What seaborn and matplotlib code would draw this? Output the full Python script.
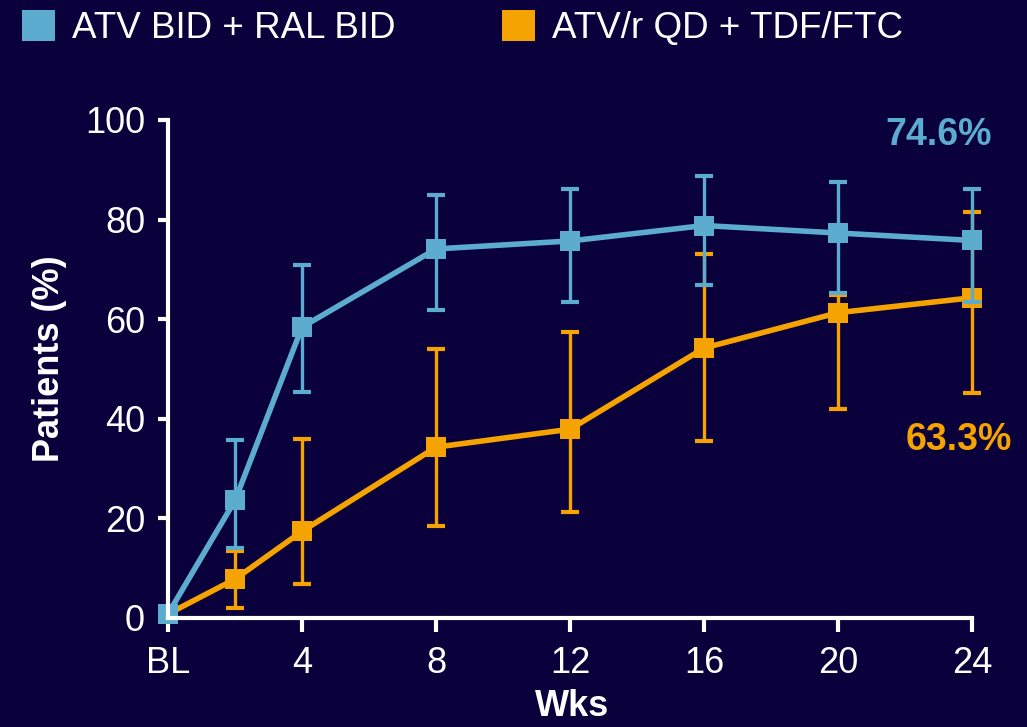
import matplotlib
matplotlib.use('Agg')
import matplotlib.pyplot as plt
import seaborn as sns
import pandas as pd
from matplotlib.patches import Patch

# ---- data ----
weeks = [0, 2, 4, 8, 12, 16, 20, 24]
tick_weeks = [0, 4, 8, 12, 16, 20, 24]
tick_labels = ['BL', '4', '8', '12', '16', '20', '24']
y_ticks = [0, 20, 40, 60, 80, 100]
arm_names = ['ATV BID + RAL BID', 'ATV/r QD + TDF/FTC']
ral_pct = [0.8, 23.6, 58.4, 74.1, 75.7, 78.8, 77.3, 75.8]
ral_low = [0.8, 14.0, 45.3, 61.8, 63.4, 66.9, 65.2, 63.5]
ral_high = [0.8, 35.8, 70.9, 84.9, 86.1, 88.7, 87.5, 86.2]
tdf_pct = [0.8, 7.8, 17.4, 34.3, 37.9, 54.2, 61.3, 64.3]
tdf_low = [0.8, 2.0, 6.8, 18.5, 21.2, 35.6, 41.9, 45.2]
tdf_high = [0.8, 13.5, 36.0, 54.1, 57.5, 73.1, 64.8, 81.5]
end_labels = ['74.6%', '63.3%']

bg = '#0A003C'
blue = '#5BACCF'
orange = '#F5A300'

sns.set_style('white')
plt.rcParams['font.family'] = ['Liberation Sans', 'DejaVu Sans']

fig = plt.figure(figsize=(10.27, 7.27), dpi=100, facecolor=bg)
ax = fig.add_axes([0.1636, 0.150, 0.783, 0.685])
ax.set_facecolor(bg)

series = [
    (arm_names[1], tdf_pct, tdf_low, tdf_high, orange),
    (arm_names[0], ral_pct, ral_low, ral_high, blue),
]
for name, pct, low, high, col in series:
    df = pd.DataFrame({'week': weeks, 'pct': pct})
    lo = [p - l for p, l in zip(pct[1:], low[1:])]
    hi = [h - p for p, h in zip(pct[1:], high[1:])]
    ax.errorbar(weeks[1:], pct[1:], yerr=[lo, hi], fmt='none', ecolor=col,
                elinewidth=2.4, capsize=6.5, capthick=3, clip_on=False)
    sns.lineplot(data=df, x='week', y='pct', ax=ax, color=col, lw=4,
                 marker='s', markersize=15, markeredgewidth=0, clip_on=False,
                 legend=False)

ax.set_xlim(0, 24)
ax.set_ylim(0, 100)
ax.set_xticks(tick_weeks)
ax.set_xticklabels(tick_labels)
ax.set_yticks(y_ticks)

for s in ['top', 'right']:
    ax.spines[s].set_visible(False)
for s in ['left', 'bottom']:
    ax.spines[s].set_color('white')
    ax.spines[s].set_linewidth(3)

ax.tick_params(axis='x', bottom=True, direction='out', colors='white', width=3,
               length=10, labelsize=26, pad=10)
ax.tick_params(axis='y', left=True, direction='out', colors='white', width=3,
               length=7.5, labelsize=26, pad=9)

ax.set_ylabel('Patients (%)', color='white', fontsize=26, fontweight='bold', va='center')
ax.yaxis.set_label_coords(-0.148, 0.521)
ax.set_xlabel('Wks', color='white', fontsize=26, fontweight='bold', va='center')
ax.xaxis.set_label_coords(0.502, -0.177)

ax.text(1.025, 0.970, end_labels[0], transform=ax.transAxes, ha='right', va='center',
        color=blue, fontsize=27, fontweight='bold')
ax.text(1.050, 0.357, end_labels[1], transform=ax.transAxes, ha='right', va='center',
        color=orange, fontsize=27, fontweight='bold')

handles = [Patch(facecolor=blue, edgecolor='none', label=arm_names[0]),
           Patch(facecolor=orange, edgecolor='none', label=arm_names[1])]
leg = fig.legend(handles=handles, loc='upper left', bbox_to_anchor=(22 / 1027, 1 - 10 / 727),
                 ncol=2, frameon=False, fontsize=26.5, handlelength=0.9, handleheight=0.9,
                 handletextpad=0.45, columnspacing=2.9, borderpad=0, borderaxespad=0)
for t in leg.get_texts():
    t.set_color('white')

fig.savefig('out.png', dpi=100, facecolor=bg)
